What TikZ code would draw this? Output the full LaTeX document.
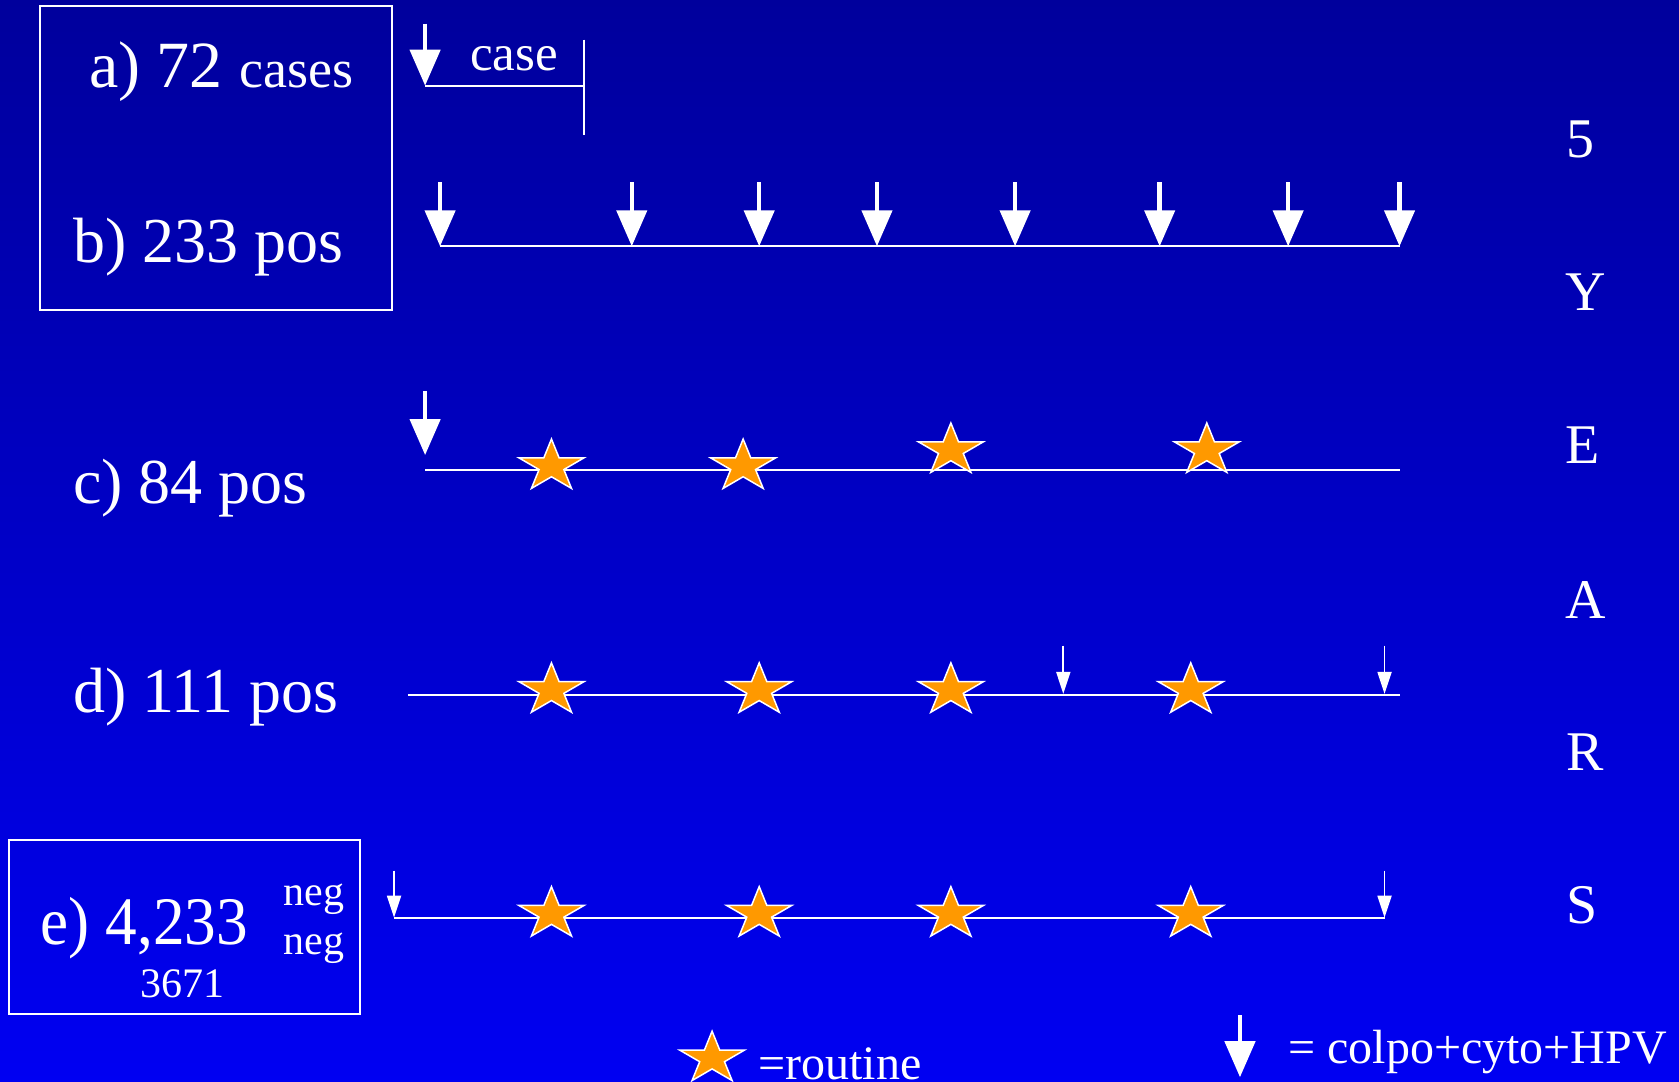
\documentclass[tikz,border=0pt]{standalone}
\usepackage{fontspec}
\setmainfont{Liberation Serif}
\usetikzlibrary{arrows.meta,shapes.geometric}
\definecolor{bgtop}{RGB}{0,0,156}
\definecolor{bgbot}{RGB}{0,0,242}
\definecolor{starorange}{RGB}{255,153,0}
\newcommand{\fsz}[1]{\fontsize{#1}{#1}\selectfont}
\begin{document}
\begin{tikzpicture}[x=1.0708pt,y=-1.0708pt,
  txt/.style={text=white,inner sep=0pt,anchor=base west},
  tl/.style={draw=white,line width=2pt},
  bigarrow/.style={draw=white,line width=4.5pt,-{Triangle[width=30pt,length=36pt]}},
  smallarrow/.style={draw=white,line width=1.8pt,-{Triangle[width=14pt,length=22pt]}},
  boxst/.style={draw=white,line width=2pt,inner sep=0pt},
  starnode/.style={star,star points=5,star point ratio=2.618,minimum size=54.6pt,inner sep=0pt,
    fill=starorange,draw=white,line width=1.5pt,xscale=1.25,transform shape}]
\useasboundingbox (0,0) rectangle (1568,1010);
\fill[top color=bgtop,bottom color=bgbot] (0,0) rectangle (1568,1010);

% boxes
\node[boxst,minimum width=352pt,minimum height=304pt] (boxab) at (201.5,148) {};
\node[boxst,minimum width=351pt,minimum height=174.5pt] (boxe) at (172,865.5) {};

% left labels
\node[txt] (la) at (83,82) {\fsz{66}a) 72 \fsz{54}cases};
\node[txt] (lb) at (68,245) {\fsz{64}b) 233 pos};
\node[txt] (lc) at (68,470) {\fsz{64}c) 84 pos};
\node[txt] (ld) at (68,665) {\fsz{64}d) 111 pos};
\node[txt,xscale=0.93,transform shape] (le) at (38,882) {\fsz{68}e) 4,233};
\node[txt,anchor=base east] (neg1) at (322,846) {\fsz{42}neg};
\node[txt,anchor=base east] (neg2) at (322,891) {\fsz{42}neg};
\node[txt,anchor=base] (n3671) at (170,932) {\fsz{42}3671};

% 5 YEARS
\node[txt,anchor=base] (y5) at (1476,147) {\fsz{56}5};
\node[txt,anchor=base] (yY) at (1481,290) {\fsz{56}Y};
\node[txt,anchor=base] (yE) at (1478,433) {\fsz{56}E};
\node[txt,anchor=base] (yA) at (1481,578) {\fsz{56}A};
\node[txt,anchor=base] (yR) at (1480,720) {\fsz{56}R};
\node[txt,anchor=base] (yS) at (1477,862) {\fsz{56}S};

% line a
\coordinate (a0) at (397,22);
\coordinate (a1) at (397,80);
\coordinate (a2) at (545,80);
\coordinate (t0) at (545,37);
\coordinate (t1) at (545,126);
\draw[bigarrow] (a0) -- (a1);
\draw[tl] (a1) -- (a2);
\draw[tl] (t0) -- (t1);
\node[txt,anchor=base] (lcase) at (480,66) {\fsz{51}case};

% line b
\coordinate (b0) at (411,230);
\coordinate (b1) at (1307,230);
\draw[tl] (b0) -- (b1);
\foreach \x [count=\i] in {411,590,709,819,948,1083,1203,1307}{
  \coordinate (bs\i) at (\x,170);
  \coordinate (be\i) at (\x,230);
  \draw[bigarrow] (bs\i) -- (be\i);
}

% line c
\coordinate (c0) at (397,439);
\coordinate (c1) at (1307,439);
\draw[tl] (c0) -- (c1);
\coordinate (cs) at (397,365);
\coordinate (ce) at (397,425);
\draw[bigarrow] (cs) -- (ce);
\node[starnode] (cst1) at (515,435.5) {};
\node[starnode] (cst2) at (694,435.5) {};
\node[starnode] (cst3) at (888,420.5) {};
\node[starnode] (cst4) at (1127,420.5) {};

% line d
\coordinate (d0) at (381,649);
\coordinate (d1) at (1307,649);
\draw[tl] (d0) -- (d1);
\node[starnode] (dst1) at (515,644.5) {};
\node[starnode] (dst2) at (709,644.5) {};
\node[starnode] (dst3) at (888,644.5) {};
\node[starnode] (dst4) at (1112,644.5) {};
\coordinate (ds1) at (993,603);
\coordinate (de1) at (993,648);
\coordinate (ds2) at (1293,603);
\coordinate (de2) at (1293,648);
\draw[smallarrow] (ds1) -- (de1);
\draw[smallarrow] (ds2) -- (de2);

% line e
\coordinate (e0) at (368,857);
\coordinate (e1) at (1293,857);
\draw[tl] (e0) -- (e1);
\node[starnode] (est1) at (515,853.5) {};
\node[starnode] (est2) at (709,853.5) {};
\node[starnode] (est3) at (888,853.5) {};
\node[starnode] (est4) at (1112,853.5) {};
\coordinate (es1) at (368,813);
\coordinate (es2) at (1293,813);
\draw[smallarrow] (es1) -- (e0);
\draw[smallarrow] (es2) -- (e1);

% legend
\node[starnode] (lgstar) at (665,988.5) {};
\node[txt] (lgroutine) at (708,1008) {\fsz{48}=routine};
\coordinate (lga0) at (1158,948);
\coordinate (lga1) at (1158,1006);
\draw[bigarrow] (lga0) -- (lga1);
\node[txt] (lgtext) at (1203,993) {\fsz{48}= colpo+cyto+HPV};
\end{tikzpicture}
\end{document}
